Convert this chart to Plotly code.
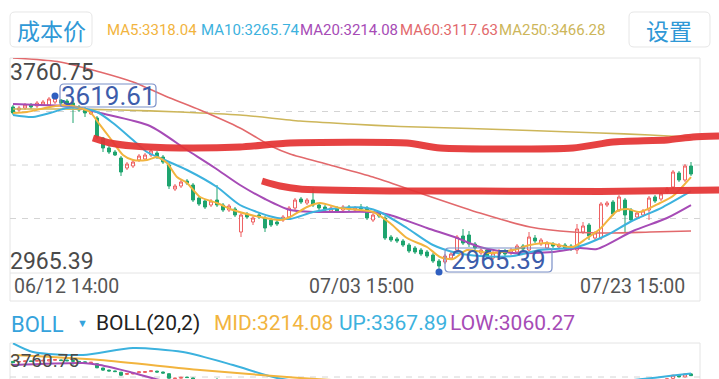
import plotly.graph_objects as go

W, H = 719, 379

# ---------------- data ----------------
bars = list(range(114))
opens = [3578.7, 3567.5, 3574.9, 3586.1, 3582.4, 3586.1, 3586.1, 3597.2, 3604.7, 3600.9,
         3593.5, 3578.7, 3571.2, 3552.7, 3537.8, 3463.4, 3426.3, 3411.4, 3389.1, 3351.9,
         3359.4, 3381.7, 3385.4, 3400.2, 3407.7, 3392.8, 3363.1, 3273.9, 3285.0, 3303.6,
         3288.7, 3240.4, 3229.2, 3214.4, 3233.0, 3214.4, 3195.8, 3199.5, 3114.0, 3180.9,
         3151.2, 3177.2, 3166.1, 3158.6, 3151.2, 3158.6, 3169.8, 3203.2, 3236.7, 3221.8,
         3233.0, 3214.4, 3206.9, 3192.1, 3203.2, 3195.8, 3206.9, 3195.8, 3206.9, 3203.2,
         3158.6, 3180.9, 3166.1, 3095.4, 3088.0, 3080.6, 3065.7, 3054.6, 3047.1, 3039.7,
         3028.5, 3006.2, 3002.5, 3017.4, 3047.1, 3099.2, 3102.9, 3069.4, 3036.0, 3047.1,
         3017.4, 3032.3, 3043.4, 3036.0, 3039.7, 3062.0, 3047.1, 3091.7, 3069.4, 3054.6,
         3069.4, 3058.3, 3065.7, 3062.0, 3047.1, 3114.0, 3140.0, 3091.7, 3091.7, 3214.4,
         3225.5, 3195.8, 3233.0, 3195.8, 3169.8, 3177.2, 3195.8, 3244.1, 3236.7, 3262.7,
         3281.3, 3333.3, 3307.3, 3359.4]
closes = [3556.4, 3574.9, 3586.1, 3578.7, 3593.5, 3597.2, 3608.4, 3612.1, 3593.5, 3589.8,
          3582.4, 3567.5, 3556.4, 3563.8, 3467.2, 3426.3, 3411.4, 3400.2, 3337.0, 3366.8,
          3374.2, 3396.5, 3400.2, 3415.1, 3392.8, 3374.2, 3285.0, 3285.0, 3299.9, 3296.2,
          3233.0, 3218.1, 3206.9, 3229.2, 3214.4, 3195.8, 3210.7, 3177.2, 3177.2, 3169.8,
          3166.1, 3169.8, 3128.9, 3140.0, 3143.8, 3169.8, 3203.2, 3233.0, 3225.5, 3233.0,
          3214.4, 3203.2, 3195.8, 3203.2, 3192.1, 3206.9, 3199.5, 3203.2, 3199.5, 3166.1,
          3177.2, 3173.5, 3091.7, 3084.3, 3080.6, 3065.7, 3043.4, 3039.7, 3032.3, 3024.8,
          3006.2, 2987.7, 3024.8, 3032.3, 3095.4, 3073.1, 3069.4, 3054.6, 3047.1, 3024.8,
          3036.0, 3043.4, 3032.3, 3047.1, 3062.0, 3050.8, 3095.4, 3080.6, 3084.3, 3073.1,
          3062.0, 3065.7, 3054.6, 3054.6, 3125.2, 3136.3, 3099.2, 3110.3, 3218.1, 3221.8,
          3180.9, 3244.1, 3177.2, 3158.6, 3184.6, 3192.1, 3240.4, 3229.2, 3255.3, 3273.9,
          3337.0, 3307.3, 3359.4, 3329.6]
highs = [3586.1, 3582.4, 3593.5, 3593.5, 3600.9, 3604.7, 3615.8, 3619.61, 3608.4, 3608.4,
         3600.9, 3586.1, 3578.7, 3567.5, 3545.2, 3467.2, 3433.7, 3418.8, 3396.5, 3374.2,
         3381.7, 3404.0, 3407.7, 3422.5, 3415.1, 3400.2, 3370.5, 3292.4, 3307.3, 3311.0,
         3296.2, 3247.8, 3236.7, 3236.7, 3288.7, 3221.8, 3218.1, 3206.9, 3188.4, 3188.4,
         3173.5, 3184.6, 3173.5, 3166.1, 3158.6, 3177.2, 3210.7, 3240.4, 3244.1, 3240.4,
         3277.6, 3221.8, 3214.4, 3210.7, 3210.7, 3214.4, 3214.4, 3210.7, 3218.1, 3210.7,
         3184.6, 3188.4, 3173.5, 3102.9, 3095.4, 3088.0, 3073.1, 3062.0, 3054.6, 3047.1,
         3036.0, 3013.7, 3032.3, 3039.7, 3102.9, 3125.2, 3117.7, 3076.9, 3054.6, 3054.6,
         3043.4, 3050.8, 3050.8, 3054.6, 3069.4, 3069.4, 3114.0, 3102.9, 3091.7, 3080.6,
         3076.9, 3073.1, 3073.1, 3069.4, 3143.8, 3151.2, 3147.5, 3117.7, 3225.5, 3229.2,
         3233.0, 3251.5, 3240.4, 3203.2, 3192.1, 3199.5, 3247.8, 3251.5, 3262.7, 3281.3,
         3344.5, 3340.8, 3366.8, 3374.2]
lows = [3548.9, 3560.1, 3567.5, 3571.2, 3574.9, 3582.4, 3582.4, 3589.8, 3586.1, 3582.4,
        3519.2, 3560.1, 3541.5, 3548.9, 3459.7, 3411.4, 3404.0, 3396.5, 3322.2, 3344.5,
        3351.9, 3374.2, 3377.9, 3392.8, 3385.4, 3366.8, 3273.9, 3266.4, 3277.6, 3288.7,
        3225.5, 3210.7, 3199.5, 3206.9, 3206.9, 3188.4, 3188.4, 3169.8, 3095.4, 3162.3,
        3140.0, 3162.3, 3114.0, 3132.6, 3136.3, 3151.2, 3162.3, 3195.8, 3218.1, 3214.4,
        3206.9, 3195.8, 3188.4, 3188.4, 3184.6, 3188.4, 3192.1, 3192.1, 3192.1, 3158.6,
        3151.2, 3166.1, 3084.3, 3076.9, 3073.1, 3058.3, 3036.0, 3032.3, 3024.8, 3017.4,
        2998.8, 2965.39, 2995.1, 3010.0, 3039.7, 3065.7, 3058.3, 3047.1, 3028.5, 3017.4,
        3010.0, 3024.8, 3024.8, 3028.5, 3032.3, 3043.4, 3039.7, 3073.1, 3062.0, 3047.1,
        3054.6, 3050.8, 3047.1, 3043.4, 3032.3, 3106.6, 3084.3, 3084.3, 3084.3, 3206.9,
        3173.5, 3188.4, 3114.0, 3151.2, 3162.3, 3169.8, 3158.6, 3221.8, 3229.2, 3255.3,
        3273.9, 3299.9, 3299.9, 3322.2]

# moving averages (bar position, value)
ma5_x = [0, 2.33, 6.17, 9, 10.67, 12.83, 14.5, 16.17, 18.33, 20, 22.33, 24, 25.67, 27.33, 29,
         31.17, 34, 36.67, 41.17, 44.5, 46.17, 49, 51.17, 54.5, 57.83, 60, 62.83, 65.67, 69,
         71.17, 73.33, 75.67, 79.5, 83.33, 86.17, 89, 93.33, 95.67, 97.83, 100.67, 102.33,
         104.5, 107.83, 110, 113]
ma5_y = [3556.4, 3560.1, 3578.7, 3586.1, 3578.7, 3560.1, 3511.8, 3463.4, 3400.2, 3381.7,
         3381.7, 3392.8, 3370.5, 3318.5, 3296.2, 3244.1, 3221.8, 3195.8, 3169.8, 3158.6,
         3169.8, 3206.9, 3221.8, 3203.2, 3195.8, 3188.4, 3147.5, 3091.7, 3058.3, 3021.1,
         3013.7, 3047.1, 3036.0, 3047.1, 3065.7, 3073.1, 3058.3, 3091.7, 3125.2, 3192.1,
         3199.5, 3188.4, 3221.8, 3247.8, 3318.04]
ma10_x = [0, 3.33, 6.17, 9, 11.17, 14, 16.67, 20, 22.33, 24.5, 29, 34, 37.83, 43.33, 46.17,
          50, 54.5, 59, 61.17, 65.67, 70, 74, 77.83, 83.33, 87.83, 94, 99, 102.83, 108.33, 113]
ma10_y = [3548.9, 3541.5, 3556.4, 3574.9, 3574.9, 3560.1, 3519.2, 3456.0, 3411.4, 3389.1,
          3344.5, 3281.3, 3214.4, 3169.8, 3162.3, 3188.4, 3203.2, 3203.2, 3188.4, 3128.9,
          3065.7, 3036.0, 3024.8, 3024.8, 3047.1, 3058.3, 3102.9, 3151.2, 3206.9, 3265.74]
ma20_x = [0, 4.5, 9.5, 14.5, 22.83, 29, 33.67, 37.83, 42, 46.17, 50.67, 60, 62.83, 69, 74,
          77.83, 83.33, 90, 94.5, 97.33, 103.33, 109, 113]
ma20_y = [3589.8, 3586.1, 3582.4, 3556.4, 3508.1, 3418.8, 3352.0, 3288.7, 3236.7, 3195.8,
          3188.4, 3188.4, 3177.2, 3128.9, 3091.7, 3058.3, 3036.0, 3039.7, 3054.6, 3050.8,
          3117.7, 3166.1, 3214.08]
ma60_x = [0, 7.83, 14.5, 20, 26.17, 31.17, 37.83, 43.33, 46.17, 52.83, 60, 67.83, 77.83,
          86.17, 93.33, 100, 106.17, 113]
ma60_y = [3760.75, 3745.9, 3708.7, 3671.5, 3612.1, 3567.5, 3500.6, 3430.0, 3404.0, 3363.1,
          3318.5, 3259.0, 3184.6, 3132.6, 3114.0, 3110.3, 3114.0, 3117.63]
ma250_x = [0, 7.83, 17.83, 27.83, 37.83, 47.83, 56.17, 64.5, 76.17, 86.17, 97.83, 106.17, 113]
ma250_y = [3571.2, 3571.2, 3567.5, 3560.1, 3548.9, 3526.6, 3515.5, 3506.2, 3498.7, 3491.3,
           3482.0, 3474.6, 3466.28]

# hand-drawn red marker lines
mark1_x = [13.33, 16.17, 20, 27.83, 37.83, 46.17, 65.67, 71.17, 93.33, 100, 109, 113.33, 117.67]
mark1_y = [3463.4, 3444.9, 3433.7, 3426.3, 3430.0, 3444.9, 3444.9, 3426.3, 3426.3, 3448.6,
           3456.0, 3467.2, 3470.9]
mark2_x = [41.5, 44.5, 47.83, 64.5, 77.83, 97.83, 117.67]
mark2_y = [3303.6, 3285.0, 3273.9, 3266.4, 3266.4, 3264.5, 3270.1]

# BOLL sub panel
boll_up_x = [0, 3.33, 11.67, 20, 28.33, 36.67, 44, 52.83, 64.5, 74.5, 84.5, 94.5, 104.5, 110, 113]
boll_up_y = [3895, 3743.3, 3690.8, 3813.3, 3743.3, 3515.8, 3288.3, 3180, 3130, 3120, 3110,
             3160, 3265, 3330, 3367.89]
boll_mid_x = [0, 14.5, 31.17, 47.83, 61.17, 77.83, 94.5, 113]
boll_mid_y = [3690.8, 3603.3, 3428.3, 3288.3, 3200, 3058, 3055, 3214.08]
boll_low_x = [0, 11.67, 14.5, 19.5, 24.5, 40, 60, 78, 95, 113]
boll_low_y = [3515.8, 3550.8, 3515.8, 3393, 3253, 3050, 3080, 2930, 2950, 3060.27]

ma_names = ["MA5", "MA10", "MA20", "MA60", "MA250"]
ma_last = [3318.04, 3265.74, 3214.08, 3117.63, 3466.28]
boll_names = ["MID", "UP", "LOW"]
boll_last = [3214.08, 3367.89, 3060.27]
date_labels = ["06/12 14:00", "07/03 15:00", "07/23 15:00"]
date_pos = [0, 58, 103]
y_top, y_bottom = 3760.75, 2965.39
max_bar, max_val = 7, 3619.61
min_bar, min_val = 71, 2965.39

# ---------------- style ----------------
RED = "#ee5f60"
GREEN = "#1ea46f"
C5, C10, C20, C60, C250 = "#f2b43e", "#3cb2de", "#a64bb6", "#e2696c", "#cdb65a"
BLUE = "#2f5fc0"
FONT = "Roboto"
CJK = "Noto Sans CJK SC"


def px(x):
    return x / W


def py(y):
    return 1 - y / H


fig = go.Figure()

candle_kw = dict(
    increasing=dict(line=dict(color=RED, width=1), fillcolor="white"),
    decreasing=dict(line=dict(color=GREEN, width=1), fillcolor=GREEN),
    whiskerwidth=0, showlegend=False, hoverinfo="skip")

fig.add_trace(go.Candlestick(x=bars, open=opens, high=highs, low=lows, close=closes,
                             xaxis="x", yaxis="y", **candle_kw))
fig.add_trace(go.Candlestick(x=bars, open=opens, high=highs, low=lows, close=closes,
                             xaxis="x", yaxis="y2", **candle_kw))

for xs, ys, col, w in [(ma250_x, ma250_y, C250, 1.6), (ma60_x, ma60_y, C60, 1.6),
                       (ma20_x, ma20_y, C20, 2), (ma10_x, ma10_y, C10, 2),
                       (ma5_x, ma5_y, C5, 2)]:
    fig.add_trace(go.Scatter(x=xs, y=ys, mode="lines", line=dict(color=col, width=w,
                             shape="spline", smoothing=0.7), showlegend=False,
                             hoverinfo="skip", yaxis="y"))

for xs, ys in [(mark1_x, mark1_y), (mark2_x, mark2_y)]:
    fig.add_trace(go.Scatter(x=xs, y=ys, mode="lines",
                             line=dict(color="rgba(228,52,52,0.93)", width=7,
                                       shape="spline", smoothing=0.6),
                             showlegend=False, hoverinfo="skip", yaxis="y"))

for xs, ys, col in [(boll_up_x, boll_up_y, C10), (boll_mid_x, boll_mid_y, C5),
                    (boll_low_x, boll_low_y, C20)]:
    fig.add_trace(go.Scatter(x=xs, y=ys, mode="lines", line=dict(color=col, width=2,
                             shape="spline", smoothing=0.7), showlegend=False,
                             hoverinfo="skip", yaxis="y2"))

fig.add_trace(go.Scatter(x=[max_bar, min_bar], y=[max_val, min_val], mode="markers",
                         marker=dict(color=BLUE, size=7), cliponaxis=False,
                         showlegend=False, hoverinfo="skip", yaxis="y"))

# ---------------- shapes ----------------
shapes = []


def hline(y, x0=10, x1=700, color="#e4e4e4", dash=None, layer="below"):
    ln = dict(color=color, width=1)
    if dash:
        ln["dash"] = dash
    shapes.append(dict(type="line", xref="paper", yref="paper", x0=px(x0), x1=px(x1),
                       y0=py(y), y1=py(y), line=ln, layer=layer))


def vline(x, y0, y1, color="#e4e4e4"):
    shapes.append(dict(type="line", xref="paper", yref="paper", x0=px(x), x1=px(x),
                       y0=py(y0), y1=py(y1), line=dict(color=color, width=1), layer="below"))


def rrect(x0, y0, x1, y1, r, color, width=1, layer="below"):
    def P(x, y):
        return f"{px(x):.5f},{py(y):.5f}"
    path = (f"M {P(x0 + r, y0)} L {P(x1 - r, y0)} Q {P(x1, y0)} {P(x1, y0 + r)} "
            f"L {P(x1, y1 - r)} Q {P(x1, y1)} {P(x1 - r, y1)} L {P(x0 + r, y1)} "
            f"Q {P(x0, y1)} {P(x0, y1 - r)} L {P(x0, y0 + r)} Q {P(x0, y0)} {P(x0 + r, y0)} Z")
    shapes.append(dict(type="path", xref="paper", yref="paper", path=path,
                       line=dict(color=color, width=width), layer=layer))


hline(58)
hline(273)
hline(301)
vline(10, 58, 301)
vline(700, 58, 301)
for gy in [111.5, 165, 218.5]:
    hline(gy, color="#d4d4d4", dash="6px,6px")
hline(343)
vline(10, 343, 379)
vline(700, 343, 379)
hline(377, color="#d4d4d4", dash="6px,6px")

rrect(10, 12, 92, 47, 5, "#e6e6e6")
rrect(629, 12, 710, 47, 5, "#e6e6e6")
rrect(60, 84, 156, 107, 4, "#7b90c8", 1.2, "above")
rrect(445, 248, 552, 272, 4, "#7b90c8", 1.2, "above")

# ---------------- annotations ----------------
ann = []


def text(t, x, y, size, color, xanchor="left", family=FONT):
    ann.append(dict(text=t, x=px(x), y=py(y), xref="paper", yref="paper",
                    xanchor=xanchor, yanchor="middle", showarrow=False,
                    font=dict(size=size, color=color, family=family)))


text("成本价", 51, 30, 23, "#2f98d6", "center", CJK)
text("设置", 669, 30, 23, "#2f98d6", "center", CJK)
ma_cols = [C5, C10, C20, C60, C250]
ma_xs = [105, 199, 298, 398, 497]
for n, v, c, x in zip(ma_names, ma_last, ma_cols, ma_xs):
    text(f"{n}:{v:.2f}", x, 30, 15, c)

text(f"{y_top:.2f}", 8, 73, 23, "#4a4a4a")
text(f"{y_bottom:.2f}", 8, 261, 23, "#4a4a4a")
text(f"{max_val:.2f}", 108, 96, 26, "#3d5dab", "center")
text(f"{min_val:.2f}", 498, 260, 26, "#3d5dab", "center")

date_xs = [12, 361, 632]
for lab, x, anc in zip(date_labels, date_xs, ["left", "center", "center"]):
    text(lab, x, 286, 19.5, "#555555", anc)

text("BOLL", 9, 324, 22, "#36a3dc")
text("▼", 82, 323, 11, "#36a3dc", "center")
text("BOLL(20,2)", 94, 323, 21, "#222222")
boll_cols = [C5, C10, C20]
boll_xs = [212, 337, 448]
for n, v, c, x in zip(boll_names, boll_last, boll_cols, boll_xs):
    text(f"{n}:{v:.2f}", x, 323, 21, c)
text(f"{y_top:.2f}", 8, 360, 19, "#4a4a4a")

fig.update_layout(
    width=W, height=H, margin=dict(l=0, r=0, t=0, b=0),
    paper_bgcolor="white", plot_bgcolor="white",
    xaxis=dict(domain=[0, 1], range=[-13 / 6, 706 / 6], visible=False,
               rangeslider=dict(visible=False), fixedrange=True),
    yaxis=dict(domain=[py(272), py(58)], range=[y_bottom, y_top], visible=False),
    yaxis2=dict(domain=[0, py(343)], range=[3270.75, 3900.75], visible=False, anchor="x"),
    shapes=shapes, annotations=ann, showlegend=False,
)

fig.write_html("out.html")
